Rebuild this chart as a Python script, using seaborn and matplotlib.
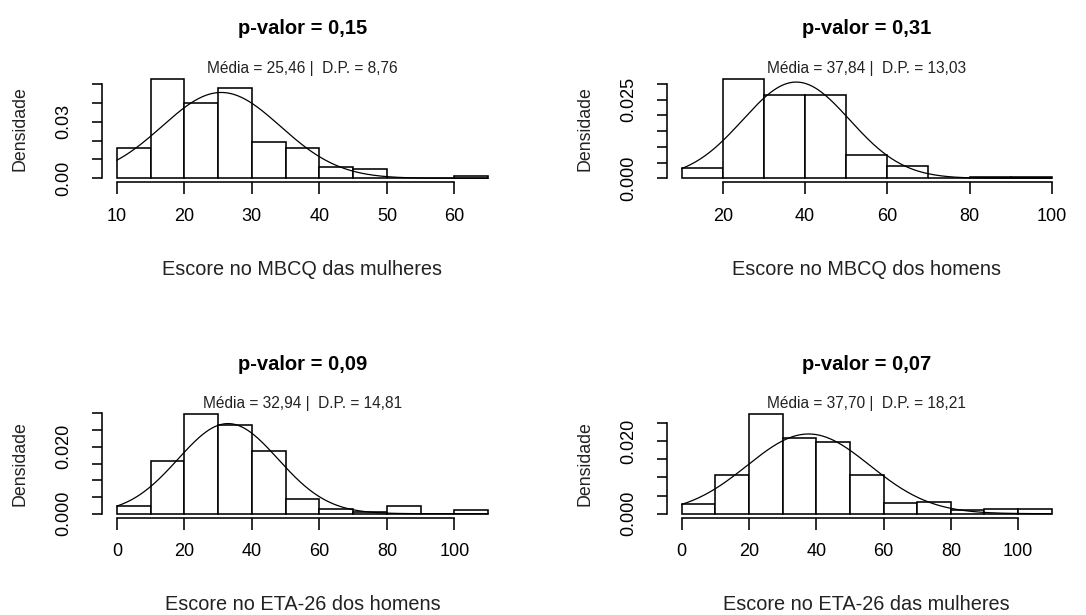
import numpy as np
import pandas as pd
import seaborn as sns
import matplotlib.pyplot as plt

# bins (edges) and density heights
edges_1 = [10, 15, 20, 25, 30, 35, 40, 45, 50, 55, 60, 65]
dens_1 = [0.0159, 0.0527, 0.0398, 0.0479, 0.0193, 0.0159, 0.0058, 0.0051, 0.0, 0.0, 0.0010]

edges_2 = [10, 20, 30, 40, 50, 60, 70, 80, 90, 100]
dens_2 = [0.0033, 0.0316, 0.0264, 0.0264, 0.0073, 0.0038, 0.0, 0.0004, 0.0004]

edges_3 = [0, 10, 20, 30, 40, 50, 60, 70, 80, 90, 100, 110]
dens_3 = [0.0024, 0.0158, 0.0298, 0.0265, 0.0187, 0.0044, 0.0014, 0.0005, 0.0024, 0.0, 0.0010]

edges_4 = [0, 10, 20, 30, 40, 50, 60, 70, 80, 90, 100, 110]
dens_4 = [0.0026, 0.0107, 0.0274, 0.0209, 0.0197, 0.0107, 0.0029, 0.0031, 0.0009, 0.0013, 0.0014]

means = [25.46, 37.84, 32.94, 37.70]
sds = [8.76, 13.03, 14.81, 18.21]
pvals = ["0,15", "0,31", "0,09", "0,07"]
subtitles = ["Média = 25,46 |  D.P. = 8,76", "Média = 37,84 |  D.P. = 13,03",
             "Média = 32,94 |  D.P. = 14,81", "Média = 37,70 |  D.P. = 18,21"]
xlabels = ["Escore no MBCQ das mulheres", "Escore no MBCQ dos homens",
           "Escore no ETA-26 dos homens", "Escore no ETA-26 das mulheres"]

xticks_1 = [10, 20, 30, 40, 50, 60]
xticks_2 = [20, 40, 60, 80, 100]
xticks_3 = [0, 20, 40, 60, 80, 100]
xticks_4 = [0, 20, 40, 60, 80, 100]

yticks_1 = [0.00, 0.01, 0.02, 0.03, 0.04, 0.05]
yticks_2 = [0.000, 0.005, 0.010, 0.015, 0.020, 0.025, 0.030]
yticks_3 = [0.000, 0.005, 0.010, 0.015, 0.020, 0.025, 0.030]
yticks_4 = [0.000, 0.005, 0.010, 0.015, 0.020, 0.025]
# R drops overlapping labels, only these are shown
ylab_shown_1 = {0.00: "0.00", 0.03: "0.03"}
ylab_shown_2 = {0.000: "0.000", 0.025: "0.025"}
ylab_shown_3 = {0.000: "0.000", 0.020: "0.020"}
ylab_shown_4 = {0.000: "0.000", 0.020: "0.020"}

sns.set_theme(style="ticks")
plt.rcParams['font.family'] = ['Liberation Sans', 'DejaVu Sans']

W, H = 1086, 615
fig = plt.figure(figsize=(W / 100, H / 100), dpi=100)
fig.patch.set_facecolor('white')

# plot regions in pixels: left, top, right, bottom
boxes = [(102, 75, 503, 182.3), (667, 75, 1066.5, 182.3),
         (102, 410, 503, 517.7), (667, 410, 1066.5, 517.7)]

panels = [(edges_1, dens_1, xticks_1, yticks_1, ylab_shown_1),
          (edges_2, dens_2, xticks_2, yticks_2, ylab_shown_2),
          (edges_3, dens_3, xticks_3, yticks_3, ylab_shown_3),
          (edges_4, dens_4, xticks_4, yticks_4, ylab_shown_4)]

lw = 1.15
for i, (edges, dens, xt, yt, shown) in enumerate(panels):
    l, t, r, b = boxes[i]
    ax = fig.add_axes([l / W, 1 - b / H, (r - l) / W, (b - t) / H])
    ax.set_facecolor('white')

    centers = [(edges[k] + edges[k + 1]) / 2 for k in range(len(dens))]
    df = pd.DataFrame({'x': centers, 'w': dens})
    sns.histplot(data=df, x='x', weights='w', bins=edges, stat='count',
                 color='white', edgecolor='black', linewidth=lw, alpha=1, ax=ax)

    # normal curve from the mean / sd printed on the panel
    xs = np.linspace(edges[0], edges[-1], 400)
    ys = np.exp(-0.5 * ((xs - means[i]) / sds[i]) ** 2) / (sds[i] * np.sqrt(2 * np.pi))
    sns.lineplot(x=xs, y=ys, color='black', linewidth=0.9, ax=ax)

    span = edges[-1] - edges[0]
    ax.set_xlim(edges[0] - 0.04 * span, edges[-1] + 0.04 * span)
    ymax = max(dens)
    ax.set_ylim(-0.04 * ymax, 1.04 * ymax)

    ax.set_xticks(xt)
    ax.set_xticklabels([str(v) for v in xt])
    ax.set_yticks(yt)
    ax.set_yticklabels([shown.get(v, "") for v in yt])
    ax.set_xlabel('')
    ax.set_ylabel('')

    for s in ['top', 'right']:
        ax.spines[s].set_visible(False)
    ax.spines['left'].set_bounds(yt[0], yt[-1])
    ax.spines['bottom'].set_bounds(xt[0], xt[-1])
    for s in ['left', 'bottom']:
        ax.spines[s].set_linewidth(lw)
        ax.spines[s].set_color('black')

    ax.tick_params(axis='x', direction='out', length=8.5, width=lw, colors='black',
                   labelsize=13, pad=10)
    ax.tick_params(axis='y', direction='out', length=7.2, width=lw, colors='black',
                   labelsize=13, pad=14)
    for lab in ax.get_yticklabels():
        lab.set_rotation(90)
        lab.set_va('center')

    cx = (l + r) / 2
    fig.text(cx / W, 1 - (t - 46) / H, "p-valor = " + pvals[i], ha='center', va='center',
             fontsize=14.5, fontweight='bold', color='black')
    fig.text(cx / W, 1 - (t - 6.5) / H, subtitles[i], ha='center', va='center',
             fontsize=11.2, color='#222222')
    fig.text(cx / W, 1 - (b + 87) / H, xlabels[i], ha='center', va='center',
             fontsize=14.3, color='#222222')
    fig.text((l - 82) / W, 1 - ((t + b) / 2) / H, "Densidade", ha='center', va='center',
             rotation=90, fontsize=12.8, color='#222222')

fig.savefig('out.png', dpi=100)
